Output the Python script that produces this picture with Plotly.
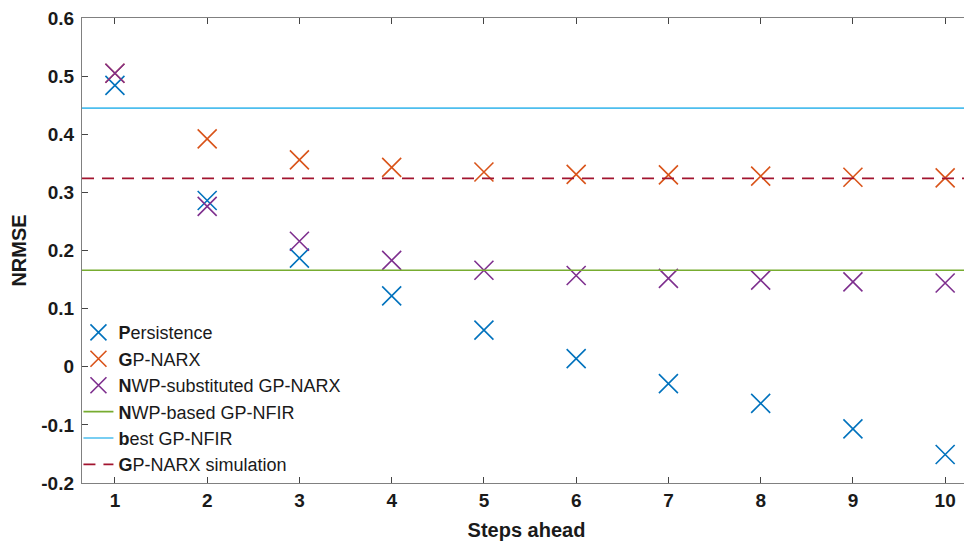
import plotly.graph_objects as go

steps = [1, 2, 3, 4, 5, 6, 7, 8, 9, 10]
persistence = [0.484, 0.286, 0.187, 0.122, 0.063, 0.014, -0.029, -0.063, -0.107, -0.151]
gp_narx = [0.505, 0.392, 0.356, 0.343, 0.335, 0.331, 0.330, 0.328, 0.326, 0.325]
nwp_sub_narx = [0.505, 0.276, 0.216, 0.183, 0.166, 0.157, 0.152, 0.149, 0.146, 0.144]
nwp_based_nfir = 0.166
best_nfir = 0.445
narx_simulation = 0.324

x_range = [0.643, 10.28]
y_range = [-0.2, 0.6]
y_ticks = [-0.2, -0.1, 0, 0.1, 0.2, 0.3, 0.4, 0.5, 0.6]
y_ticklabels = ["-0.2", "-0.1", "0", "0.1", "0.2", "0.3", "0.4", "0.5", "0.6"]

FONT = "Liberation Sans, Arial, sans-serif"
TXT = "#1a1a1a"

def marker_trace(y, name, color):
    return go.Scatter(
        x=steps, y=y, mode="markers", name=name,
        marker=dict(symbol="x-thin-open", size=19, color=color,
                    line=dict(width=1.6, color=color)),
        cliponaxis=False,
    )

def hline_trace(v, name, color, dash="solid"):
    return go.Scatter(
        x=x_range, y=[v, v], mode="lines", name=name,
        line=dict(color=color, width=1.6, dash=dash),
    )

fig = go.Figure()
fig.add_trace(hline_trace(nwp_based_nfir, "<b>N</b>WP-based GP-NFIR", "#77AC30"))
fig.add_trace(hline_trace(best_nfir, "<b>b</b>est GP-NFIR", "#4DBEEE"))
fig.add_trace(hline_trace(narx_simulation, "<b>G</b>P-NARX simulation", "#A2142F", dash="12px,8px"))
fig.add_trace(marker_trace(persistence, "<b>P</b>ersistence", "#0072BD"))
fig.add_trace(marker_trace(gp_narx, "<b>G</b>P-NARX", "#D95319"))
fig.add_trace(marker_trace(nwp_sub_narx, "<b>N</b>WP-substituted GP-NARX", "#7E2F8E"))

# legend order: markers first, then lines
fig.data = tuple([fig.data[3], fig.data[4], fig.data[5], fig.data[0], fig.data[1], fig.data[2]])

axis_common = dict(
    showline=True, linecolor="#808080", linewidth=1.3, mirror="ticks",
    ticks="inside", ticklen=6, tickcolor="#444444", tickwidth=1.3,
    showgrid=False, zeroline=False, ticklabeloverflow="allow",
    tickfont=dict(family=FONT, size=19, color=TXT, weight="bold"),
)

fig.update_layout(
    width=964, height=536,
    margin=dict(l=74, r=0, t=8, b=61),
    paper_bgcolor="white", plot_bgcolor="white",
    font=dict(family=FONT, color=TXT),
    xaxis=dict(range=x_range, tickvals=steps, ticktext=[str(s) for s in steps],
               title=dict(text="<b>Steps ahead</b>", font=dict(family=FONT, size=20, color=TXT), standoff=13),
               **axis_common),
    yaxis=dict(range=y_range, tickvals=y_ticks, ticktext=y_ticklabels,
               ticklabelstandoff=3,
               title=dict(text="<b>NRMSE</b>", font=dict(family=FONT, size=20, color=TXT), standoff=9),
               **axis_common),
    legend=dict(
        x=-0.004, y=0.363, xanchor="left", yanchor="top",
        bgcolor="rgba(0,0,0,0)", borderwidth=0,
        font=dict(family=FONT, size=18, color=TXT),
        traceorder="normal", tracegroupgap=0, itemwidth=30,
    ),
    showlegend=True,
)

fig.write_html("out.html")
